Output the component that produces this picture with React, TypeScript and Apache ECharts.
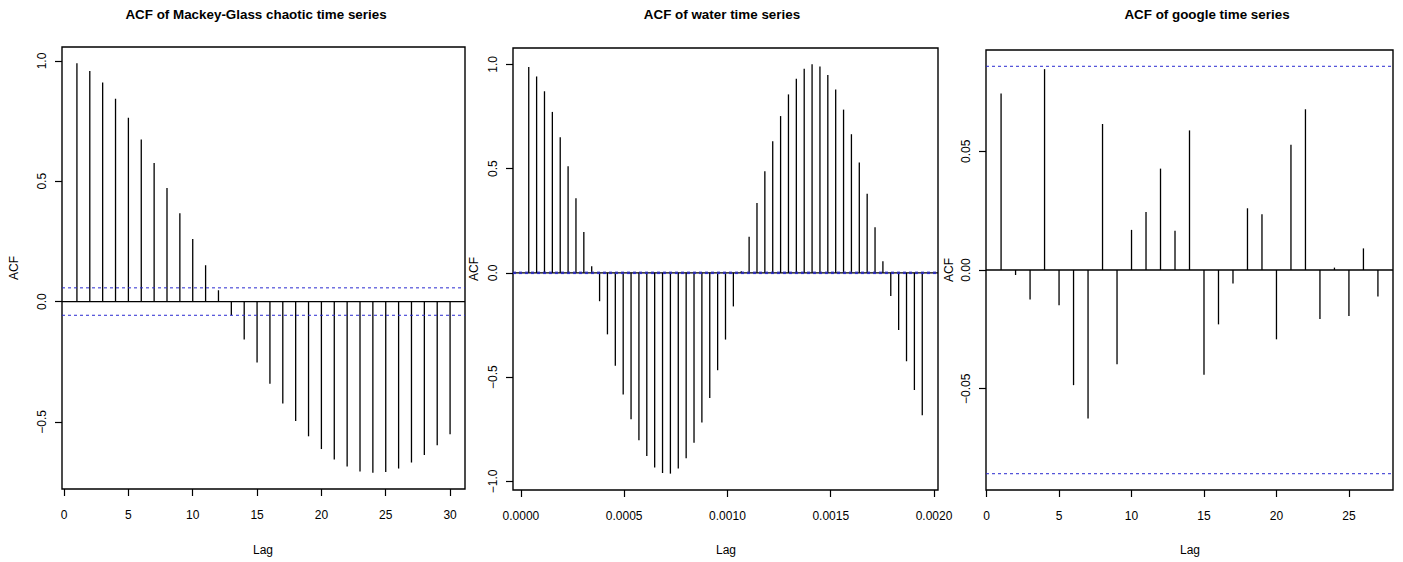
import React, { useEffect, useRef } from "react";
import * as echarts from "echarts";

// ---- Data ----
const MG_ACF = [
  0.99, 0.958, 0.91, 0.843, 0.764, 0.674, 0.576, 0.472, 0.367, 0.26, 0.151, 0.047,
  -0.057, -0.158, -0.253, -0.342, -0.424, -0.496, -0.56, -0.613, -0.656, -0.686,
  -0.706, -0.711, -0.708, -0.694, -0.669, -0.638, -0.597, -0.551,
];
const MG_CI = 0.057;

const WATER_LAG_STEP = 0.0000381;
const WATER_ACF = [
  0.987, 0.942, 0.871, 0.772, 0.65, 0.511, 0.358, 0.196, 0.032, -0.136, -0.295,
  -0.446, -0.583, -0.702, -0.803, -0.879, -0.933, -0.96, -0.963, -0.938, -0.889,
  -0.815, -0.718, -0.6, -0.467, -0.32, -0.161, 0.008, 0.173, 0.335, 0.487, 0.631,
  0.752, 0.856, 0.931, 0.979, 1.0, 0.99, 0.949, 0.879, 0.783, 0.665, 0.529, 0.379,
  0.219, 0.056, -0.111, -0.274, -0.424, -0.562, -0.683,
];
const WATER_CI = 0.0035;

const GOOGLE_ACF = [
  0.0743, -0.0021, -0.0124, 0.0846, -0.0148, -0.0485, -0.0626, 0.0615, -0.0397,
  0.0169, 0.0244, 0.0427, 0.0165, 0.0588, -0.0441, -0.0229, -0.0057, 0.026, 0.0235,
  -0.0292, 0.0528, 0.0677, -0.0206, 0.001, -0.0194, 0.0091, -0.0112,
];
const GOOGLE_CI = 0.0858;

const MG_X_TICKS = [0, 5, 10, 15, 20, 25, 30];
const MG_Y_TICKS = [-0.5, 0, 0.5, 1.0];
const WATER_X_TICKS = [0, 0.0005, 0.001, 0.0015, 0.002];
const WATER_Y_TICKS = [-1.0, -0.5, 0, 0.5, 1.0];
const GOOGLE_X_TICKS = [0, 5, 10, 15, 20, 25];
const GOOGLE_Y_TICKS = [-0.05, 0, 0.05];

const TITLES = [
  "ACF of Mackey-Glass chaotic time series",
  "ACF of water time series",
  "ACF of google time series",
];

const FONT = "'Liberation Sans', Arial, Helvetica, sans-serif";

function ext(lo: number, hi: number): [number, number] {
  const d = (hi - lo) * 0.04;
  return [lo - d, hi + d];
}

const fmt = (digits: number) => (v: number) =>
  (Math.abs(v) < 1e-12 ? 0 : v).toFixed(digits).replace("-", "\u2212");

export default function App() {
  const ref = useRef<HTMLDivElement>(null);
  useEffect(() => {
    if (!ref.current) return;
    const chart = echarts.init(ref.current, undefined, { renderer: "svg" });

    const panels = [
      {
        data: MG_ACF.map((v, i) => [i + 1, v]),
        ci: MG_CI,
        grid: { left: 62, top: 47, width: 403, height: 442 },
        xr: ext(1, MG_ACF.length),
        yr: ext(Math.min(...MG_ACF, -MG_CI), Math.max(...MG_ACF, MG_CI)),
        xt: MG_X_TICKS,
        yt: MG_Y_TICKS,
        xf: fmt(0),
        yf: fmt(1),
        title: TITLES[0],
        titleX: 256,
        acfX: 14,
        lagX: 263,
      },
      {
        data: WATER_ACF.map((v, i) => [(i + 1) * WATER_LAG_STEP, v]),
        ci: WATER_CI,
        grid: { left: 513, top: 48, width: 425, height: 442 },
        xr: ext(WATER_LAG_STEP, WATER_ACF.length * WATER_LAG_STEP),
        yr: ext(Math.min(...WATER_ACF, -WATER_CI), Math.max(...WATER_ACF, WATER_CI)),
        xt: WATER_X_TICKS,
        yt: WATER_Y_TICKS,
        xf: fmt(4),
        yf: fmt(1),
        title: TITLES[1],
        titleX: 722,
        acfX: 474,
        lagX: 726,
      },
      {
        data: GOOGLE_ACF.map((v, i) => [i + 1, v]),
        ci: GOOGLE_CI,
        grid: { left: 986, top: 50, width: 407, height: 440 },
        xr: ext(1, GOOGLE_ACF.length),
        yr: ext(Math.min(...GOOGLE_ACF, -GOOGLE_CI), Math.max(...GOOGLE_ACF, GOOGLE_CI)),
        xt: GOOGLE_X_TICKS,
        yt: GOOGLE_Y_TICKS,
        xf: fmt(0),
        yf: fmt(2),
        title: TITLES[2],
        titleX: 1207,
        acfX: 949,
        lagX: 1190,
      },
    ];

    const grids: any[] = [];
    const xAxes: any[] = [];
    const yAxes: any[] = [];
    const series: any[] = [];
    const graphics: any[] = [];

    panels.forEach((p, k) => {
      grids.push({
        ...p.grid,
        show: true,
        borderColor: "#000",
        borderWidth: 1.4,
        backgroundColor: "transparent",
      });
      xAxes.push({
        type: "value",
        gridIndex: k,
        min: p.xr[0],
        max: p.xr[1],
        position: "bottom",
        axisLine: { show: false, onZero: false },
        splitLine: { show: false },
        axisTick: {
          show: true,
          length: 7,
          inside: false,
          customValues: p.xt,
          lineStyle: { color: "#000", width: 1.2 },
        },
        axisLabel: {
          show: true,
          customValues: p.xt,
          formatter: p.xf,
          margin: 20,
          color: "#000",
          fontSize: 12,
          fontFamily: FONT,
        },
      });
      yAxes.push({
        type: "value",
        gridIndex: k,
        min: p.yr[0],
        max: p.yr[1],
        position: "left",
        axisLine: { show: false, onZero: false },
        splitLine: { show: false },
        axisTick: {
          show: true,
          length: 7,
          inside: false,
          customValues: p.yt,
          lineStyle: { color: "#000", width: 1.2 },
        },
        axisLabel: {
          show: true,
          customValues: p.yt,
          formatter: p.yf,
          rotate: 90,
          margin: 14,
          color: "#000",
          fontSize: 12,
          fontFamily: FONT,
        },
      });
      series.push({
        type: "custom",
        xAxisIndex: k,
        yAxisIndex: k,
        data: p.data,
        encode: { x: 0, y: 1 },
        renderItem: (params: any, api: any) => {
          const x = api.value(0);
          const y = api.value(1);
          const a = api.coord([x, 0]);
          const b = api.coord([x, y]);
          return {
            type: "line",
            shape: { x1: a[0], y1: a[1], x2: b[0], y2: b[1] },
            style: { stroke: "#000", lineWidth: 1.3 },
          };
        },
        z: 2,
      });
      const hline = (v: number, color: string, dashed: boolean, w: number) => ({
        type: "line",
        xAxisIndex: k,
        yAxisIndex: k,
        data: [
          [p.xr[0], v],
          [p.xr[1], v],
        ],
        showSymbol: false,
        symbol: "none",
        silent: true,
        lineStyle: { color, width: w, type: dashed ? [3, 3] : "solid" },
        z: 3,
      });
      series.push(hline(0, "#000", false, 1.3));
      series.push(hline(p.ci, "#2a2ad0", true, 1));
      series.push(hline(-p.ci, "#2a2ad0", true, 1));

      graphics.push({
        type: "text",
        x: p.titleX,
        y: 14,
        style: {
          text: p.title,
          fill: "#000",
          font: `bold 13.4px ${FONT}`,
          textAlign: "center",
          textVerticalAlign: "middle",
        },
      });
      graphics.push({
        type: "text",
        x: p.acfX,
        y: p.grid.top + p.grid.height / 2,
        rotation: Math.PI / 2,
        style: {
          text: "ACF",
          fill: "#000",
          font: `12px ${FONT}`,
          textAlign: "center",
          textVerticalAlign: "middle",
        },
      });
      graphics.push({
        type: "text",
        x: p.lagX,
        y: 550,
        style: {
          text: "Lag",
          fill: "#000",
          font: `12px ${FONT}`,
          textAlign: "center",
          textVerticalAlign: "middle",
        },
      });
    });

    chart.setOption({
      animation: false,
      backgroundColor: "#fff",
      textStyle: { fontFamily: FONT },
      grid: grids,
      xAxis: xAxes,
      yAxis: yAxes,
      series,
      graphic: graphics,
    });
    return () => chart.dispose();
  }, []);

  return (
    <div
      ref={ref}
      style={{ position: "fixed", left: 0, top: 0, width: 1403, height: 562, background: "#fff" }}
    />
  );
}
